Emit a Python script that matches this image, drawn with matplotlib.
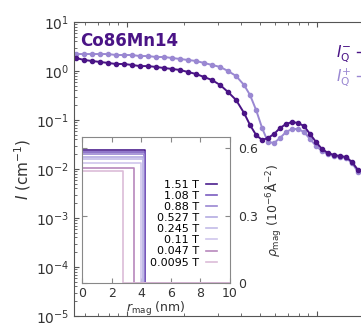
import matplotlib.pyplot as plt
from matplotlib.lines import Line2D

# SANS data
q = [0.0539, 0.0594, 0.0654, 0.0721, 0.0794, 0.0875, 0.0964, 0.106, 0.117, 0.129,
     0.142, 0.157, 0.173, 0.190, 0.209, 0.231, 0.254, 0.280, 0.309, 0.340,
     0.375, 0.413, 0.444, 0.478, 0.514, 0.552, 0.594, 0.639, 0.687, 0.739,
     0.794, 0.854, 0.919, 0.988, 1.062, 1.143, 1.229, 1.321, 1.421, 1.528, 1.644]
I_plus = [2.22, 2.22, 2.22, 2.22, 2.22, 2.12, 2.12, 2.12, 2.02, 2.02,
          1.93, 1.93, 1.84, 1.76, 1.68, 1.60, 1.46, 1.33, 1.21, 1.00,
          0.791, 0.518, 0.324, 0.160, 0.0687, 0.0356, 0.0340, 0.0429, 0.0569, 0.0655,
          0.0655, 0.0569, 0.0409, 0.0295, 0.0233, 0.0202, 0.0184, 0.0176, 0.0168, 0.0133, 0.00869]
I_minus = [1.84, 1.68, 1.60, 1.53, 1.46, 1.39, 1.39, 1.33, 1.26, 1.26,
           1.21, 1.15, 1.10, 1.05, 0.955, 0.869, 0.755, 0.655, 0.518, 0.373,
           0.256, 0.139, 0.0791, 0.0494, 0.0391, 0.0429, 0.0518, 0.0687, 0.0828, 0.0910,
           0.0869, 0.0755, 0.0518, 0.0356, 0.0256, 0.0212, 0.0193, 0.0184, 0.0176, 0.0139, 0.00955]

# inset: magnetic profiles
fields = ['1.51 T', '1.08 T', '0.88 T', '0.527 T', '0.245 T', '0.11 T', '0.047 T', '0.0095 T']
rho = [0.59, 0.585, 0.575, 0.56, 0.55, 0.535, 0.51, 0.50]
radius = [4.25, 4.25, 4.2, 4.15, 4.1, 4.0, 3.5, 2.8]
prof_colors = ['#4b1f8e', '#7a5cc0', '#9a86d2', '#b4abe2', '#c2bbe8', '#cfc6ec', '#b888bc', '#dcbcd8']

dark = '#4a1486'
light = '#9a88d2'
axcol = '#555555'

fig = plt.figure(figsize=(3.61, 3.24), dpi=100)
ax = fig.add_axes([74/361, 8/324, 300/361, 294/324])
ax.set_xscale('log')
ax.set_yscale('log')
ax.plot(q, I_plus, '-', color=light, lw=1.4)
ax.plot(q, I_plus, 'o', color=light, ms=3)
ax.plot(q, I_minus, '-', color=dark, lw=1.4)
ax.plot(q, I_minus, 'o', color=dark, ms=3)
ax.set_xlim(0.0526, 1.995)
ax.set_ylim(1e-5, 10)
ax.set_ylabel(r'$I$ (cm$^{-1}$)', fontsize=11, color='#333333', labelpad=2)
ax.tick_params(which='both', direction='in', top=True, right=True, colors=axcol,
               labelcolor='#333333', labelsize=10)
ax.tick_params(axis='x', labelbottom=False)
for s in ax.spines.values():
    s.set_color(axcol)
fig.text(80/361, 1-46/324, 'Co86Mn14', fontsize=12, fontweight='bold', color=dark)

# legend for the two spin-flip intensities
hm = Line2D([], [], color=dark, marker='o', ms=3, lw=1)
hp = Line2D([], [], color=light, marker='o', ms=3, lw=1)
leg = fig.legend([hm, hp], [r'$I_\mathrm{Q}^{-}$', r'$I_\mathrm{Q}^{+}$'], loc='upper left',
                 bbox_to_anchor=(322/361, 1-30/324), frameon=False, fontsize=11,
                 markerfirst=False, handlelength=1.2, handletextpad=0.4, labelspacing=0.1)
leg.get_texts()[0].set_color(dark)
leg.get_texts()[1].set_color(light)

# inset
axi = fig.add_axes([82/361, 41/324, 148/361, 146/324])
for f, r0, R, c in zip(fields, rho, radius, prof_colors):
    axi.plot([0, 0, R, R, 10], [0, r0, r0, 0, 0], color=c, lw=1.2, label=f)
axi.set_xlim(0, 10)
axi.set_ylim(0, 0.65)
axi.set_xticks([0, 2, 4, 6, 8, 10])
axi.set_yticks([0, 0.3, 0.6])
axi.set_yticklabels(['0', '0.3', '0.6'])
axi.yaxis.tick_right()
axi.yaxis.set_label_position('right')
axi.tick_params(direction='in', top=True, left=True, colors='#888888',
                labelcolor='#333333', labelsize=9, pad=3)
axi.tick_params(axis='y', pad=6)
for s in axi.spines.values():
    s.set_color('#888888')
axi.set_xlabel(r'$r_\mathrm{mag}$ (nm)', fontsize=9, color='#333333', labelpad=0)
axi.set_ylabel(r'$\rho_\mathrm{mag}$ (10$^{-6}$Å$^{-2}$)', fontsize=9, color='#333333', labelpad=4)
axi.legend(loc='upper right', bbox_to_anchor=(0.95, 0.745), frameon=False, fontsize=8,
           markerfirst=False, handlelength=1.0, handletextpad=0.6, labelspacing=0.1,
           borderpad=0)

fig.savefig('out.png', dpi=100)
